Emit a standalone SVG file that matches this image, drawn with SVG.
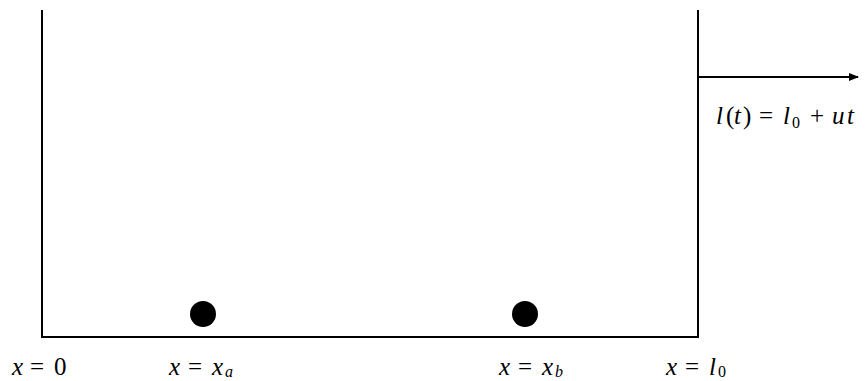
<svg xmlns="http://www.w3.org/2000/svg" width="866" height="381" viewBox="0 0 866 381">
<style>
.ln{stroke:#000;stroke-width:2;fill:none}
.t{font-family:"Liberation Serif",serif;font-size:25px;fill:#000}
.i{font-style:italic}
.s{font-size:16px}
</style>
<defs>
<marker id="ah" markerWidth="10" markerHeight="8" refX="9" refY="4" orient="auto" markerUnits="userSpaceOnUse">
<path d="M0,0 L10,4 L0,8 Z" fill="#000"/>
</marker>
</defs>
<g id="container">
<path class="ln" d="M42,10 L42,337 L698,337 L698,10"/>
</g>
<g id="connectors">
<line class="ln" x1="698" y1="77" x2="858" y2="77" marker-end="url(#ah)"/>
</g>
<g id="particle-a"><circle cx="203" cy="314" r="13" fill="#000"/></g>
<g id="particle-b"><circle cx="525" cy="314" r="13" fill="#000"/></g>
<g id="label-l">
<text class="t" y="124"><tspan class="i" x="716">l</tspan><tspan x="726">(</tspan><tspan class="i" x="734">t</tspan><tspan x="743">)</tspan><tspan x="759">=</tspan><tspan class="i" x="783">l</tspan><tspan class="s" x="792" y="128">0</tspan><tspan x="810" y="124">+</tspan><tspan class="i" x="832">u</tspan><tspan class="i" x="847">t</tspan></text>
</g>
<g id="label-0">
<text class="t" y="375"><tspan class="i" x="12">x</tspan><tspan x="30">=</tspan><tspan x="54">0</tspan></text>
</g>
<g id="label-xa">
<text class="t" y="375"><tspan class="i" x="169">x</tspan><tspan x="188">=</tspan><tspan class="i" x="212">x</tspan><tspan class="s i" x="225" y="377">a</tspan></text>
</g>
<g id="label-xb">
<text class="t" y="375"><tspan class="i" x="499">x</tspan><tspan x="518">=</tspan><tspan class="i" x="542">x</tspan><tspan class="s i" x="555" y="377">b</tspan></text>
</g>
<g id="label-l0">
<text class="t" y="375"><tspan class="i" x="666">x</tspan><tspan x="685">=</tspan><tspan class="i" x="709">l</tspan><tspan class="s" x="718" y="377">0</tspan></text>
</g>
</svg>
